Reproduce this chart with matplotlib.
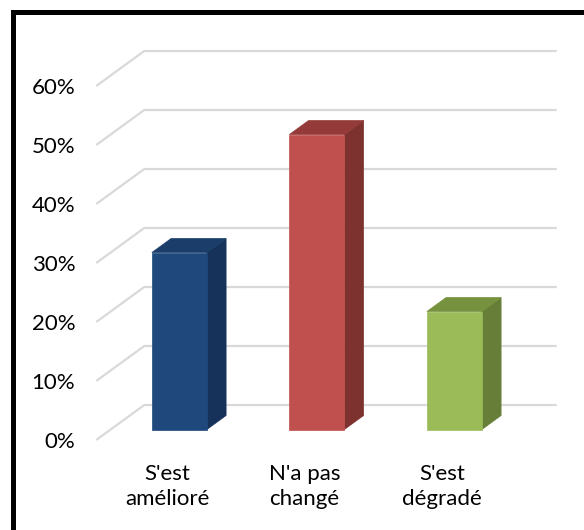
import matplotlib
matplotlib.use("Agg")
import matplotlib.pyplot as plt
from matplotlib.patches import Polygon

# Data
categories = ["S'est\namélioré", "N'a pas\nchangé", "S'est\ndégradé"]
values = [0.30, 0.50, 0.20]
ticks = [0.0, 0.1, 0.2, 0.3, 0.4, 0.5, 0.6]
tick_labels = ["0%", "10%", "20%", "30%", "40%", "50%", "60%"]

front_colors = ["#1F497D", "#C0504D", "#9BBB59"]
top_colors = ["#1A3D69", "#943B39", "#77923E"]
side_colors = ["#17325A", "#7D3230", "#667E38"]

# Oblique 3-D projection: depth 0 = front plane, depth 1 = back wall
DX = 0.349   # horizontal shift of the back wall, in category units
DY = 0.0593  # vertical shift of the back wall, in value units
half_w = 0.2
d0, d1 = 0.3, 0.7

W, H = 584, 530
fig = plt.figure(figsize=(W / 100, H / 100), dpi=100)
ax = fig.add_axes([0, 0, 1, 1])
px_x = 137.5   # pixels per category
px_y = 590.0   # pixels per unit value
x_origin = 165.0
y_origin = 440.0
ax.set_xlim(-x_origin / px_x, (W - x_origin) / px_x)
ax.set_ylim(-(H - y_origin) / px_y, y_origin / px_y)
ax.axis("off")

def proj(x, v, d):
    return (x + d * DX, v + d * DY)

font = "Lato"
fsize = 16
grid_col = "#D9D9D9"
x_left, x_right = -0.5, 2.5

# Gridlines on the side wall and back wall
for t, lab in zip(ticks, tick_labels):
    p0 = proj(x_left, t, 0)
    p1 = proj(x_left, t, 1)
    p2 = proj(x_right, t, 1)
    ax.plot([p0[0], p1[0], p2[0]], [p0[1], p1[1], p2[1]],
            color=grid_col, lw=1.6, solid_capstyle="butt", zorder=1)
    ax.text(x_left - 21 / px_x, t - 2 / px_y, lab, ha="right", va="center",
            fontsize=fsize, family=font, color="#000000")

# Columns
for i, (v, fc, tc, sc) in enumerate(zip(values, front_colors, top_colors, side_colors)):
    xl, xr = i - half_w, i + half_w
    front = [proj(xl, 0, d0), proj(xr, 0, d0), proj(xr, v, d0), proj(xl, v, d0)]
    side = [proj(xr, 0, d0), proj(xr, 0, d1), proj(xr, v, d1), proj(xr, v, d0)]
    top = [proj(xl, v, d0), proj(xr, v, d0), proj(xr, v, d1), proj(xl, v, d1)]
    ax.add_patch(Polygon(side, closed=True, facecolor=sc, edgecolor=sc, lw=0.5, zorder=3))
    ax.add_patch(Polygon(top, closed=True, facecolor=tc, edgecolor=tc, lw=0.5, zorder=3))
    ax.add_patch(Polygon(front, closed=True, facecolor=fc, edgecolor=fc, lw=0.5, zorder=4))
    ax.text(i + 2 / px_x, -24 / px_y, categories[i], ha="center", va="top",
            fontsize=fsize, family=font, color="#000000", linespacing=1.3)

# Chart frame (left and top edges)
fig.add_artist(plt.Line2D([12.5 / W, 12.5 / W], [0, 1 - 12 / H], transform=fig.transFigure,
                          color="black", lw=3.6, solid_capstyle="projecting"))
fig.add_artist(plt.Line2D([12.5 / W, 1], [1 - 12 / H, 1 - 12 / H], transform=fig.transFigure,
                          color="black", lw=3.6, solid_capstyle="projecting"))

fig.savefig("out.png", dpi=100, facecolor="white")
